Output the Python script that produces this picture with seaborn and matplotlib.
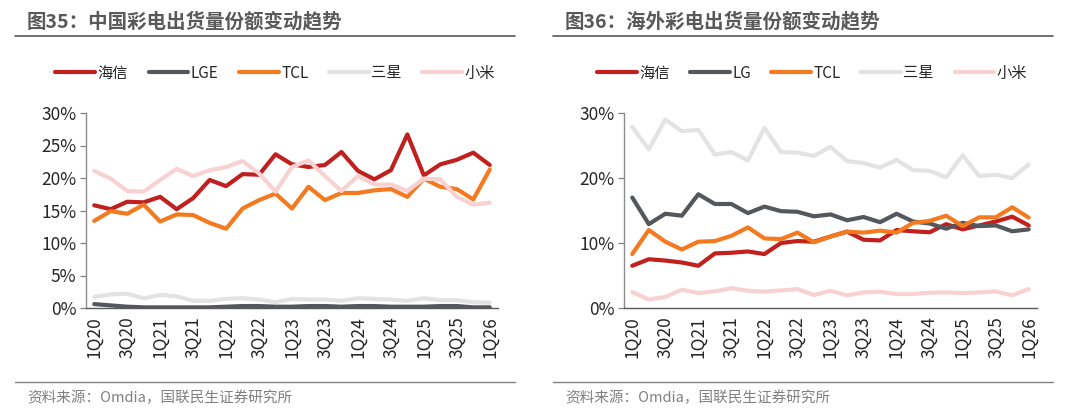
import matplotlib
matplotlib.use('Agg')
import matplotlib.pyplot as plt
import seaborn as sns
import numpy as np
import pandas as pd

quarters = ['1Q20', '2Q20', '3Q20', '4Q20', '1Q21', '2Q21', '3Q21', '4Q21',
            '1Q22', '2Q22', '3Q22', '4Q22', '1Q23', '2Q23', '3Q23', '4Q23',
            '1Q24', '2Q24', '3Q24', '4Q24', '1Q25', '2Q25', '3Q25', '4Q25', '1Q26']

# 中国市场份额 (%)
cn_hisense = [15.8, 15.2, 16.35, 16.25, 17.1, 15.2, 16.9, 19.7, 18.75, 20.6, 20.5, 23.65, 22.1,
              21.7, 22.0, 24.0, 21.1, 19.8, 21.2, 26.7, 20.4, 22.1, 22.8, 23.9, 22.0]
cn_lge = [0.6, 0.4, 0.2, 0.1, 0.1, 0.1, 0.1, 0.1, 0.2, 0.3, 0.3, 0.2, 0.2,
          0.3, 0.3, 0.2, 0.3, 0.3, 0.2, 0.2, 0.2, 0.3, 0.3, 0.1, 0.1]
cn_tcl = [13.4, 14.9, 14.5, 15.9, 13.3, 14.4, 14.3, 13.1, 12.2, 15.3, 16.6, 17.6, 15.3,
          18.65, 16.6, 17.7, 17.7, 18.1, 18.3, 17.1, 19.9, 18.65, 18.3, 16.7, 21.3]
cn_samsung = [1.7, 2.1, 2.2, 1.5, 2.0, 1.8, 1.1, 1.1, 1.4, 1.5, 1.3, 0.9, 1.4,
              1.3, 1.3, 1.1, 1.5, 1.4, 1.3, 1.1, 1.5, 1.2, 1.2, 0.9, 0.8]
cn_xiaomi = [21.1, 19.9, 18.0, 17.9, 19.7, 21.4, 20.3, 21.2, 21.7, 22.6, 20.7, 17.9, 21.7,
             22.7, 20.3, 18.0, 20.3, 19.0, 19.0, 18.0, 19.9, 19.8, 17.1, 15.9, 16.2]

# 海外市场份额 (%)
os_hisense = [6.5, 7.5, 7.3, 7.0, 6.5, 8.4, 8.5, 8.7, 8.3, 10.0, 10.3, 10.2, 11.0,
              11.75, 10.5, 10.4, 12.0, 11.8, 11.65, 12.9, 12.1, 12.7, 13.3, 14.05, 12.7]
os_lg = [17.0, 12.9, 14.5, 14.2, 17.5, 16.0, 16.0, 14.6, 15.6, 14.9, 14.8, 14.1, 14.4,
         13.5, 14.0, 13.2, 14.5, 13.3, 13.0, 12.2, 13.1, 12.6, 12.7, 11.8, 12.1]
os_tcl = [8.3, 12.0, 10.2, 9.0, 10.2, 10.3, 11.1, 12.4, 10.7, 10.6, 11.6, 10.1, 11.0,
          11.75, 11.6, 11.9, 11.6, 13.1, 13.4, 14.2, 12.6, 13.95, 13.95, 15.5, 13.9]
os_samsung = [27.85, 24.4, 29.0, 27.2, 27.4, 23.6, 24.0, 22.7, 27.7, 24.0, 23.9, 23.4, 24.8,
              22.6, 22.3, 21.6, 22.8, 21.2, 21.1, 20.1, 23.5, 20.3, 20.5, 20.0, 22.1]
os_xiaomi = [2.45, 1.3, 1.7, 2.8, 2.3, 2.55, 3.05, 2.65, 2.5, 2.7, 2.9, 2.0, 2.65,
             1.95, 2.4, 2.5, 2.15, 2.15, 2.35, 2.4, 2.3, 2.4, 2.55, 1.95, 2.9]

cn_brands = ['海信', 'LGE', 'TCL', '三星', '小米']
os_brands = ['海信', 'LG', 'TCL', '三星', '小米']
colors = ['#c0201e', '#54585c', '#f47a20', '#e3e3e3', '#f8d2d2']

sns.set_theme(style='white')
plt.rcParams['font.family'] = ['Noto Sans CJK SC', 'DejaVu Sans']

fig = plt.figure(figsize=(10.8, 4.16), dpi=100)
W, H = 1080, 416


def make_df(brands, series):
    rows = []
    for b, vals in zip(brands, series):
        for i, v in enumerate(vals):
            rows.append({'idx': i, 'share': v, 'brand': b})
    return pd.DataFrame(rows)


def draw_panel(left_px, right_px, brands, series, yticks, title, x0, legend_cx):
    ax = fig.add_axes([left_px / W, (H - 308) / H, (right_px - left_px) / W, (308 - 113) / H])
    df = make_df(brands, series)
    sns.lineplot(data=df, x='idx', y='share', hue='brand', hue_order=brands,
                 palette=dict(zip(brands, colors)), linewidth=3.0, ax=ax,
                 solid_capstyle='round')
    handles, labels = ax.get_legend_handles_labels()
    ax.get_legend().remove()
    fig.legend(handles, labels, ncol=5, loc='center', frameon=False,
               bbox_to_anchor=(legend_cx / W, (H - 73) / H), fontsize=11,
               handlelength=2.6, handletextpad=0.15, columnspacing=1.35)

    ax.set_xlim(-0.5, len(quarters) - 0.5)
    ax.set_ylim(0, 30)
    ax.set_yticks(yticks)
    ax.set_yticklabels([f'{t}%' for t in yticks], fontsize=12.5, color='#262626')
    ax.set_xticks(range(0, len(quarters), 2))
    ax.set_xticklabels(quarters[::2], rotation=90, fontsize=12.5, color='#262626')
    ax.set_xticks(np.arange(-0.5, len(quarters), 1), minor=True)
    ax.tick_params(axis='x', which='major', length=0, pad=6)
    ax.tick_params(axis='x', which='minor', length=4, width=0.9, color='#595959', direction='out')
    ax.tick_params(axis='y', length=4, width=0.9, color='#808080', direction='out', left=True, pad=3)
    ax.set_xlabel('')
    ax.set_ylabel('')
    for s in ['top', 'right']:
        ax.spines[s].set_visible(False)
    ax.spines['left'].set_color('#8c8c8c')
    ax.spines['bottom'].set_color('#595959')
    ax.spines['left'].set_linewidth(1.0)
    ax.spines['bottom'].set_linewidth(1.0)

    fig.text((x0 + 12) / W, (H - 22) / H, title, fontsize=14, fontweight='bold',
             color='#595959', ha='left', va='center')
    fig.add_artist(plt.Line2D([x0 / W, (x0 + 500) / W], [(H - 36) / H, (H - 36) / H],
                              color='#595959', linewidth=1.2))
    fig.add_artist(plt.Line2D([x0 / W, (x0 + 500) / W], [(H - 382) / H, (H - 382) / H],
                              color='#808080', linewidth=1.0))
    fig.text((x0 + 12) / W, (H - 398) / H, '资料来源：Omdia，国联民生证券研究所',
             fontsize=10.5, color='#808080', ha='left', va='center')
    return ax


draw_panel(86, 498, cn_brands, [cn_hisense, cn_lge, cn_tcl, cn_samsung, cn_xiaomi],
           [0, 5, 10, 15, 20, 25, 30], '图35：中国彩电出货量份额变动趋势', 15, 275)
draw_panel(624, 1037, os_brands, [os_hisense, os_lg, os_tcl, os_samsung, os_xiaomi],
           [0, 10, 20, 30], '图36：海外彩电出货量份额变动趋势', 553, 812)

fig.savefig('out.png', dpi=100)
